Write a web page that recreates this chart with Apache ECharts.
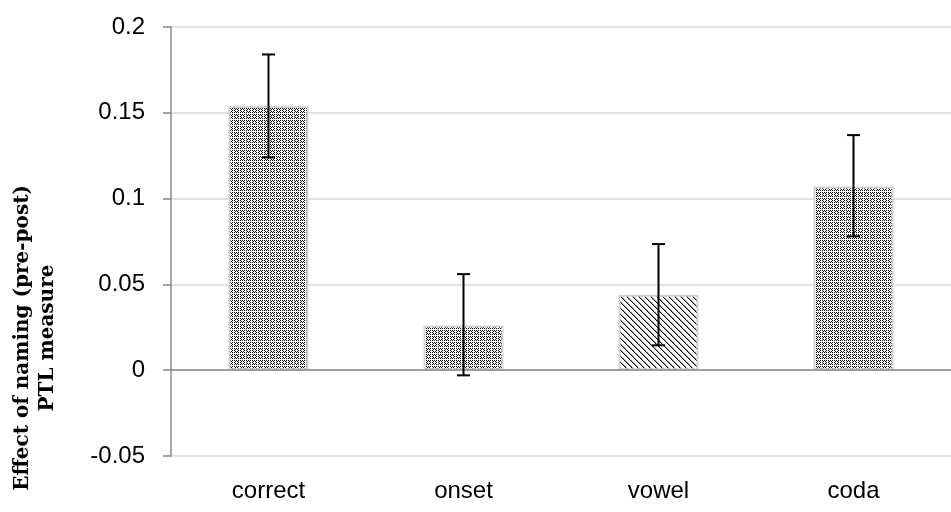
<!DOCTYPE html>
<html>
<head>
<meta charset="utf-8">
<script src="https://cdn.jsdelivr.net/npm/echarts@6/dist/echarts.min.js"></script>
<style>html,body{margin:0;padding:0;background:#fff;}#c{width:951px;height:512px;}</style>
</head>
<body>
<div id="c"></div>
<script>
// Data
const categories = ['correct', 'onset', 'vowel', 'coda'];
const values = [0.154, 0.026, 0.044, 0.107];
const errMinus = [0.030, 0.029, 0.0295, 0.029];
const errPlus = [0.030, 0.030, 0.0295, 0.030];
const yTicks = { min: -0.05, max: 0.2, interval: 0.05 };
const patternKinds = ['dots', 'dots', 'diag', 'dots'];

function makePattern(kind) {
  const c = document.createElement('canvas');
  const n = 6;
  c.width = n; c.height = n;
  const ctx = c.getContext('2d');
  ctx.fillStyle = '#ffffff';
  ctx.fillRect(0, 0, n, n);
  for (let y = 0; y < n; y++) {
    for (let x = 0; x < n; x++) {
      let col = null;
      if (kind === 'dots') {
        if ((x + y) % 2 === 0 && x < 5 && y < 5) col = '#000';
        if (x === 2 && y === 2) col = null;
      } else {
        const d = ((x - y) % n + n) % n;
        if (d === 0) col = '#000';
        else if (d === 1) col = '#aaa';
      }
      if (col) { ctx.fillStyle = col; ctx.fillRect(x, y, 1, 1); }
    }
  }
  return { image: c, repeat: 'repeat' };
}

const chart = echarts.init(document.getElementById('c'), null, { renderer: 'canvas' });
const barData = values.map((v, i) => ({
  value: v,
  itemStyle: { color: makePattern(patternKinds[i]) }
}));
const errData = values.map((v, i) => [i, v - errMinus[i], v + errPlus[i]]);

chart.setOption({
  animation: false,
  backgroundColor: '#fff',
  grid: { left: 171, top: 27, width: 791, bottom: 56, containLabel: false },
  xAxis: {
    type: 'category',
    data: categories,
    axisLine: { show: false },
    axisTick: { show: false },
    axisLabel: { margin: 23, fontSize: 24, color: '#000', fontFamily: 'Liberation Sans' }
  },
  yAxis: {
    type: 'value',
    min: yTicks.min, max: yTicks.max, interval: yTicks.interval,
    axisLine: { show: true, lineStyle: { color: '#888', width: 1.5 } },
    axisTick: { show: true, length: 8, lineStyle: { color: '#888', width: 1.5 } },
    splitLine: { lineStyle: { color: '#d9d9d9', width: 1.5 } },
    axisLabel: {
      margin: 26, fontSize: 24, color: '#000', fontFamily: 'Liberation Sans',
      formatter: v => String(Math.round(v * 100) / 100)
    }
  },
  graphic: [{
    type: 'text',
    x: 35, y: 338,
    rotation: Math.PI / 2,
    style: {
      text: 'Effect of naming (pre-post)\nPTL measure',
      fontSize: 20,
      fontWeight: 'bold',
      fontFamily: 'DejaVu Serif',
      fill: '#000',
      align: 'center',
      verticalAlign: 'middle',
      lineHeight: 25
    }
  }],
  series: [
    {
      type: 'bar',
      data: barData,
      barWidth: 80,
      itemStyle: { borderColor: '#d4d4d4', borderWidth: 2 },
      markLine: {
        silent: true, symbol: 'none',
        label: { show: false },
        lineStyle: { color: '#888', width: 1.5, type: 'solid' },
        data: [{ yAxis: 0 }]
      },
      z: 2
    },
    {
      type: 'custom',
      data: errData,
      z: 5,
      renderItem: function (params, api) {
        const x = api.value(0);
        const lo = api.coord([x, api.value(1)]);
        const hi = api.coord([x, api.value(2)]);
        const hw = 6.5;
        const st = { stroke: '#000', lineWidth: 2 };
        return {
          type: 'group',
          children: [
            { type: 'line', shape: { x1: lo[0], y1: lo[1], x2: hi[0], y2: hi[1] }, style: st },
            { type: 'line', shape: { x1: lo[0] - hw, y1: lo[1], x2: lo[0] + hw, y2: lo[1] }, style: st },
            { type: 'line', shape: { x1: hi[0] - hw, y1: hi[1], x2: hi[0] + hw, y2: hi[1] }, style: st }
          ]
        };
      }
    }
  ]
});
</script>
</body>
</html>
